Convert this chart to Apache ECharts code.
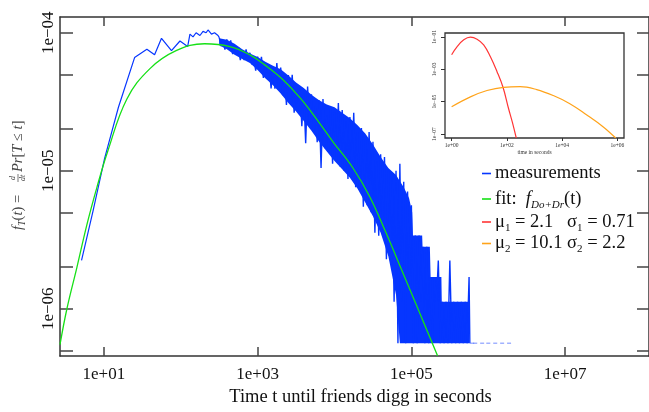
<!DOCTYPE html>
<html><head><meta charset="utf-8">
<script src="https://cdn.jsdelivr.net/npm/echarts@6/dist/echarts.min.js"></script>
<style>html,body{margin:0;padding:0;background:#fff}#c{width:649px;height:412px}</style>
</head><body><div id="c"></div><script>
// ---- data (log10 units: [log10 t, log10 f]) ----
const measEarly = [[0.71,-5.65],[0.86,-5.29],[1.01,-4.91],[1.19,-4.54],[1.40,-4.18],[1.56,-4.12],[1.66,-4.16],[1.75,-4.04],[1.88,-4.13],[1.99,-4.06],[2.09,-4.10],[2.12,-4.01],[2.16,-4.03],[2.20,-4.00],[2.25,-4.02],[2.29,-3.99],[2.33,-4.00],[2.355,-3.98],[2.40,-4.01],[2.44,-4.00],[2.485,-4.02],[2.5,-4.034]];
const measBand = [[2.5,-4.034],[2.525,-4.097],[2.55,-4.055],[2.575,-4.123],[2.6,-4.049],[2.625,-4.112],[2.65,-4.055],[2.675,-4.155],[2.7,-4.105],[2.725,-4.158],[2.75,-4.104],[2.775,-4.198],[2.8,-4.128],[2.825,-4.199],[2.85,-4.121],[2.875,-4.2],
[2.9,-4.145],[2.925,-4.23],[2.95,-4.178],[2.975,-4.275],[3.0,-4.173],[3.025,-4.264],[3.05,-4.175],[3.075,-4.327],[3.1,-4.246],[3.125,-4.332],[3.15,-4.231],[3.175,-4.404],[3.2,-4.258],[3.225,-4.405],[3.25,-4.22],[3.275,-4.4],
[3.3,-4.252],[3.325,-4.452],[3.35,-4.321],[3.375,-4.523],[3.4,-4.306],[3.425,-4.478],[3.45,-4.305],[3.475,-4.579],[3.5,-4.428],[3.525,-4.571],[3.55,-4.399],[3.575,-4.678],[3.6,-4.44],[3.625,-4.80],[3.65,-4.39],[3.675,-4.648],
[3.7,-4.446],[3.725,-4.71],[3.75,-4.535],[3.775,-4.793],[3.8,-4.49],[3.825,-4.98],[3.85,-4.48],[3.875,-4.837],[3.9,-4.60],[3.925,-4.86],[3.95,-4.55],[3.975,-4.95],[4.0,-4.58],[4.025,-4.93],[4.05,-4.51],[4.075,-4.97],
[4.1,-4.56],[4.125,-5.0],[4.15,-4.64],[4.175,-5.06],[4.2,-4.61],[4.225,-5.02],[4.25,-4.58],[4.275,-5.12],[4.3,-4.72],[4.325,-5.14],[4.35,-4.69],[4.375,-5.26],[4.4,-4.76],[4.425,-5.25],[4.45,-4.72],[4.475,-5.30],
[4.5,-4.79],[4.525,-5.45],[4.55,-4.93],[4.575,-5.47],[4.6,-4.88],[4.625,-5.40],[4.65,-4.90],[4.675,-5.642],[4.7,-5.0],[4.725,-5.643],[4.75,-5.05],[4.775,-5.95],
[4.8,-5.0],[4.825,-6.25],[4.85,-4.95],[4.875,-5.95],[4.9,-5.08],[4.925,-6.25],[4.95,-5.15],[4.975,-5.77],[5.0,-5.25],[5.025,-6.25],[5.05,-5.47],[5.075,-6.25],[5.1,-5.47],[5.125,-5.95],[5.15,-5.55],[5.175,-6.25],[5.2,-5.55],[5.225,-6.25],[5.25,-5.77],[5.275,-6.25],[5.3,-5.77],[5.325,-5.95],[5.35,-5.65],[5.375,-6.25],[5.4,-5.95],[5.425,-6.25],[5.45,-5.95],[5.475,-6.25],[5.5,-5.65],[5.525,-6.25],[5.55,-5.95],[5.575,-6.25],[5.6,-5.95],[5.625,-6.25],[5.65,-5.95],[5.675,-6.25],[5.7,-5.95],[5.725,-6.25],[5.75,-5.77],[5.76,-6.25]];
// dense core of the measurement band (upper and lower edge)
const bandCoreTop = [[2.5,-4.04],[2.6,-4.05],[2.7,-4.08],[2.8,-4.12],[2.9,-4.15],[3.0,-4.175],[3.1,-4.21],[3.2,-4.24],[3.3,-4.265],[3.4,-4.31],[3.5,-4.36],[3.6,-4.40],[3.7,-4.45],[3.8,-4.49],[3.9,-4.52],[4.0,-4.54],[4.1,-4.58],[4.2,-4.62],[4.3,-4.67],[4.4,-4.73],[4.5,-4.81],[4.6,-4.90],[4.7,-4.98],[4.8,-5.03],[4.9,-5.12],[4.97,-5.2],[5.01,-5.3],[5.02,-5.47],[5.14,-5.47],[5.145,-5.55],[5.24,-5.55],[5.25,-5.77],[5.39,-5.77],[5.395,-5.95],[5.753,-5.95]];
const bandCoreBottom = [[2.5,-4.09],[2.6,-4.12],[2.7,-4.16],[2.8,-4.19],[2.9,-4.22],[3.0,-4.27],[3.1,-4.33],[3.2,-4.38],[3.3,-4.44],[3.4,-4.51],[3.5,-4.57],[3.6,-4.64],[3.7,-4.71],[3.8,-4.79],[3.9,-4.86],[4.0,-4.93],[4.1,-4.99],[4.2,-5.05],[4.3,-5.13],[4.4,-5.23],[4.5,-5.33],[4.6,-5.45],[4.7,-5.62],[4.8,-5.9],[4.85,-6.25],[5.753,-6.25]];
const measTail = [[5.79,-6.25],[5.83,-6.25],[5.92,-6.25],[6.0,-6.25],[6.09,-6.25],[6.18,-6.25],[6.27,-6.25]];
const fitCurve = [[0.43,-6.26],[0.52,-6.00],[0.65,-5.70],[0.78,-5.39],[0.91,-5.12],[1.05,-4.86],[1.3,-4.48],[1.6,-4.26],[1.94,-4.13],[2.31,-4.08],[2.64,-4.10],[2.9,-4.16],[3.11,-4.24],[3.33,-4.34],[3.55,-4.47],[3.76,-4.62],[3.98,-4.79],[4.24,-4.98],[4.46,-5.19],[4.67,-5.45],[4.89,-5.74],[5.1,-6.02],[5.34,-6.34]];
const insetRed = [[0,-2.10],[0.2,-1.60],[0.44,-1.18],[0.68,-1.02],[0.92,-1.14],[1.16,-1.49],[1.40,-2.21],[1.64,-3.13],[1.86,-4.11],[2.06,-5.42],[2.2,-6.28],[2.34,-7.24]];
const insetOrange = [[0,-5.31],[0.68,-4.70],[1.28,-4.31],[1.88,-4.11],[2.48,-4.07],[3.08,-4.25],[3.68,-4.62],[4.28,-5.12],[4.88,-5.80],[5.48,-6.54],[5.94,-7.24]];
const mus = [2.1, 10.1];
const sigmas = [0.71, 2.2];
const xTickExps = [1, 3, 5, 7];
const yLabelExps = [-4, -5, -6];
const yTickValues = [1e-4, 5e-5, 2e-5, 1e-5, 5e-6, 2e-6, 1e-6, 5e-7];
const insetXExps = [0, 2, 4, 6];
const insetYExps = [-1, -3, -5, -7];

// ---- chart ----
const FF = '"Liberation Serif","Times New Roman",serif';
const BLUE = '#0636ff', GREEN = '#16e016', RED = '#ff3535', ORANGE = '#ffa31a';
function expLabel(v){ const n = Math.round(v); return '1e' + (n < 0 ? '\u2212' : '+') + String(Math.abs(n)).padStart(2,'0'); }
const yTickLogs = yTickValues.map(v => Math.log10(v));
const chart = echarts.init(document.getElementById('c'), null, {renderer:'canvas'});

const spine = {show:true, onZero:false, lineStyle:{color:'#333', width:1.5}};
const tickStyle = {color:'#444', width:1.5};
const rm = {fontFamily:FF, fontSize:18.5, lineHeight:24, fill:'#111'};
const it = Object.assign({}, rm, {fontStyle:'italic'});
const sub = {fontFamily:FF, fontSize:11, lineHeight:11, padding:[12,0,0,0], fill:'#111'};
const isub = Object.assign({}, sub, {fontStyle:'italic'});
const legendRows = [
  {y:173.5, color:BLUE, text:'{rm|measurements}'},
  {y:199, color:GREEN, text:'{rm|fit:  }{it|f}{isub|Do+Dr}{rm|(t)}'},
  {y:222, color:RED, text:'{rm|\u03bc}{sub|1}{rm| = ' + mus[0] + '   \u03c3}{sub|1}{rm| = ' + sigmas[0] + '}'},
  {y:243.5, color:ORANGE, text:'{rm|\u03bc}{sub|2}{rm| = ' + mus[1] + ' \u03c3}{sub|2}{rm| = ' + sigmas[1] + '}'}
];
const legendGraphics = [];
legendRows.forEach(r => {
  legendGraphics.push({type:'line', shape:{x1:482, y1:r.y, x2:491, y2:r.y}, style:{stroke:r.color, lineWidth:1.6}});
  legendGraphics.push({type:'text', x:495, y:r.y, style:{text:r.text, rich:{rm, it, sub, isub}, align:'left', verticalAlign:'middle'}});
});
const tg = '#444';
const trm = {fontFamily:FF, fontSize:14.5, lineHeight:18, fill:tg};
const tit = Object.assign({}, trm, {fontStyle:'italic'});
const tsub = {fontFamily:FF, fontSize:10, lineHeight:10, fontStyle:'italic', padding:[8,0,0,0], fill:tg};
const yTitle = {type:'group', x:18, y:173, rotation:Math.PI/2, children:[
  {type:'text', x:-57, y:0, style:{text:'{it|f}{sub|T}{rm|(}{it|t}{rm|) =}', rich:{rm:trm, it:tit, sub:tsub}, align:'left', verticalAlign:'middle'}},
  {type:'text', x:-5, y:-5, style:{text:'d', fontFamily:FF, fontStyle:'italic', fontSize:8, fill:tg, align:'center', verticalAlign:'middle'}},
  {type:'line', shape:{x1:-9, y1:0, x2:-1, y2:0}, style:{stroke:tg, lineWidth:0.7}},
  {type:'text', x:-5, y:5, style:{text:'dt', fontFamily:FF, fontStyle:'italic', fontSize:8, fill:tg, align:'center', verticalAlign:'middle'}},
  {type:'text', x:1, y:0, style:{text:'{it|Pr}{rm|[}{it|T}{rm| \u2264 }{it|t}{rm|]}', rich:{rm:trm, it:tit}, align:'left', verticalAlign:'middle'}}
]};

const option = {
  animation:false,
  backgroundColor:'#fff',
  grid:[
    {left:60, top:17, width:590, height:344, show:false},
    {left:445, top:33, width:179, height:105, show:true, borderColor:'#333', borderWidth:1.3, backgroundColor:'rgba(0,0,0,0)'}
  ],
  xAxis:[
    {gridIndex:0, type:'value', min:0.43, max:8.09, position:'bottom', axisLine:spine,
     axisTick:{show:true, inside:true, length:9, customValues:xTickExps, lineStyle:tickStyle},
     axisLabel:{customValues:xTickExps, formatter:expLabel, margin:10, fontFamily:FF, fontSize:17, color:'#111'},
     splitLine:{show:false},
     name:'Time t until friends digg in seconds', nameLocation:'middle', nameGap:28,
     nameTextStyle:{fontFamily:FF, fontSize:18.5, color:'#111', padding:[0,0,0,12]}},
    {gridIndex:0, type:'value', min:0.43, max:8.09, position:'top', axisLine:spine,
     axisTick:{show:true, inside:true, length:9, customValues:xTickExps, lineStyle:tickStyle},
     axisLabel:{show:false}, splitLine:{show:false}},
    {gridIndex:1, type:'value', min:-0.24, max:6.24, position:'bottom', axisLine:{show:false, onZero:false},
     axisTick:{show:true, inside:false, length:3, customValues:insetXExps, lineStyle:{color:'#333', width:1}},
     axisLabel:{customValues:insetXExps, formatter:expLabel, margin:5, fontFamily:FF, fontSize:5.5, color:'#333'},
     splitLine:{show:false},
     name:'time in seconds', nameLocation:'middle', nameGap:10, nameTextStyle:{fontFamily:FF, fontSize:5.5, color:'#333'}}
  ],
  yAxis:[
    {gridIndex:0, type:'value', min:-6.343, max:-3.886, position:'left', axisLine:spine,
     axisTick:{show:true, inside:true, length:13, customValues:yTickLogs, lineStyle:tickStyle},
     axisLabel:{customValues:yLabelExps, formatter:expLabel, rotate:90, margin:3, fontFamily:FF, fontSize:17, color:'#111'},
     splitLine:{show:false}},
    {gridIndex:0, type:'value', min:-6.343, max:-3.886, position:'right', axisLine:spine,
     axisTick:{show:true, inside:true, length:12, customValues:yTickLogs, lineStyle:tickStyle},
     axisLabel:{show:false}, splitLine:{show:false}},
    {gridIndex:1, type:'value', min:-7.24, max:-0.76, position:'left', axisLine:{show:false, onZero:false},
     axisTick:{show:true, inside:false, length:4, customValues:insetYExps, lineStyle:{color:'#333', width:1}},
     axisLabel:{customValues:insetYExps, formatter:expLabel, rotate:90, margin:7, fontFamily:FF, fontSize:5.5, color:'#333'},
     splitLine:{show:false}}
  ],
  series:[
    {name:'measurements', type:'custom', xAxisIndex:0, yAxisIndex:0, data:[[0]], silent:true,
     renderItem:function(params, api){
       const pts = bandCoreTop.map(p => api.coord(p)).concat(bandCoreBottom.slice().reverse().map(p => api.coord(p)));
       return {type:'polygon', shape:{points:pts}, style:{fill:BLUE}};
     }},
    {name:'measurements', type:'line', xAxisIndex:0, yAxisIndex:0, data:measEarly, showSymbol:false, lineStyle:{color:BLUE, width:1.2}},
    {name:'measurements', type:'line', xAxisIndex:0, yAxisIndex:0, data:measBand, showSymbol:false, lineStyle:{color:BLUE, width:1.4}},
    {name:'measurements', type:'scatter', xAxisIndex:0, yAxisIndex:0, data:measTail, symbol:'rect', symbolSize:[4,1.5], itemStyle:{color:'rgba(40,80,255,0.55)'}},
    {name:'fit', type:'line', xAxisIndex:0, yAxisIndex:0, data:fitCurve, smooth:0.4, showSymbol:false, lineStyle:{color:GREEN, width:1.3}},
    {name:'mu1', type:'line', xAxisIndex:2, yAxisIndex:2, data:insetRed, smooth:0.4, showSymbol:false, lineStyle:{color:RED, width:1.2}},
    {name:'mu2', type:'line', xAxisIndex:2, yAxisIndex:2, data:insetOrange, smooth:0.4, showSymbol:false, lineStyle:{color:ORANGE, width:1.2}}
  ],
  graphic:[yTitle].concat(legendGraphics)
};
chart.setOption(option);
</script></body></html>
